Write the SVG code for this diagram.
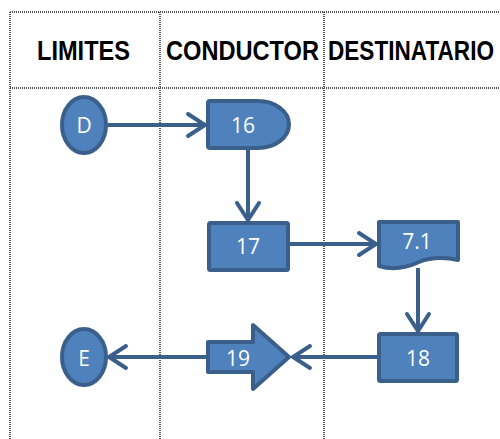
<svg xmlns="http://www.w3.org/2000/svg" width="500" height="439" viewBox="0 0 500 439">
  <style>
    .grid { stroke: #555; stroke-width: 2; stroke-dasharray: 1 1; fill: none; }
    .head { font-family: "Liberation Sans", Arial, sans-serif; font-weight: bold; font-size: 27px; fill: #000; }
    .shape { fill: #4F81BD; stroke: #3A5F8B; stroke-width: 4; stroke-linejoin: round; }
    .label { font-family: "Open Sans", "Liberation Sans", sans-serif; font-size: 21px; fill: #fff; text-anchor: middle; }
    .conn { stroke: #3A5F8B; stroke-width: 4; fill: none; marker-end: url(#chevron); }
  </style>
  <defs>
    <marker id="chevron" markerUnits="userSpaceOnUse" viewBox="-24 -16 30 32" markerWidth="30" markerHeight="32" refX="0" refY="0" orient="auto">
      <path d="M-18,-11 L-1,0 L-18,11" fill="none" stroke="#3A5F8B" stroke-width="4" stroke-linecap="round" stroke-linejoin="miter"/>
    </marker>
  </defs>

  <rect width="500" height="439" fill="#fff"/>

  <!-- table grid -->
  <g id="grid">
    <line class="grid" x1="10" y1="12" x2="500" y2="12"/>
    <line class="grid" x1="10" y1="88" x2="500" y2="88"/>
    <line class="grid" x1="10" y1="12" x2="10" y2="439"/>
    <line class="grid" x1="160" y1="12" x2="160" y2="439"/>
    <line class="grid" x1="324" y1="12" x2="324" y2="439"/>
  </g>

  <!-- column headers -->
  <g id="headers">
    <text class="head" x="37" y="60" textLength="93" lengthAdjust="spacingAndGlyphs">LIMITES</text>
    <text class="head" x="166" y="60" textLength="153" lengthAdjust="spacingAndGlyphs">CONDUCTOR</text>
    <text class="head" x="328" y="60" textLength="166" lengthAdjust="spacingAndGlyphs">DESTINATARIO</text>
  </g>

  <!-- connectors -->
  <g id="connectors">
    <path class="conn" d="M108,125 H206"/>
    <path class="conn" d="M248,150 V221"/>
    <path class="conn" d="M290,244 H377"/>
    <path class="conn" d="M418,268 V332"/>
    <path class="conn" d="M377,357 H292"/>
    <path class="conn" d="M206,357 H108"/>
  </g>

  <g id="node-D">
    <ellipse class="shape" cx="84" cy="125" rx="22" ry="28"/>
    <text class="label" x="84" y="133">D</text>
  </g>

  <g id="node-16">
    <path class="shape" d="M210,101 H258 A31,23.5 0 0 1 258,148 H210 Q208,148 208,146 V103 Q208,101 210,101 Z"/>
    <text class="label" x="243" y="133">16</text>
  </g>

  <g id="node-17">
    <rect class="shape" x="209" y="223" width="79" height="47" rx="1.5"/>
    <text class="label" x="248" y="254">17</text>
  </g>

  <g id="node-7-1">
    <path class="shape" d="M379,222 H458 V260 C446,257 430,257 419,262 C406,268 392,270 379,266 Z"/>
    <text class="label" x="417" y="249">7.1</text>
  </g>

  <g id="node-18">
    <rect class="shape" x="379" y="334" width="78" height="47" rx="1.5"/>
    <text class="label" x="418" y="366">18</text>
  </g>

  <g id="node-19">
    <path class="shape" d="M208,342 H253 V325 L289,357 L253,389 V372 H208 Z"/>
    <text class="label" x="238" y="366">19</text>
  </g>

  <g id="node-E">
    <ellipse class="shape" cx="84" cy="357" rx="22" ry="28"/>
    <text class="label" x="84" y="366">E</text>
  </g>
</svg>
